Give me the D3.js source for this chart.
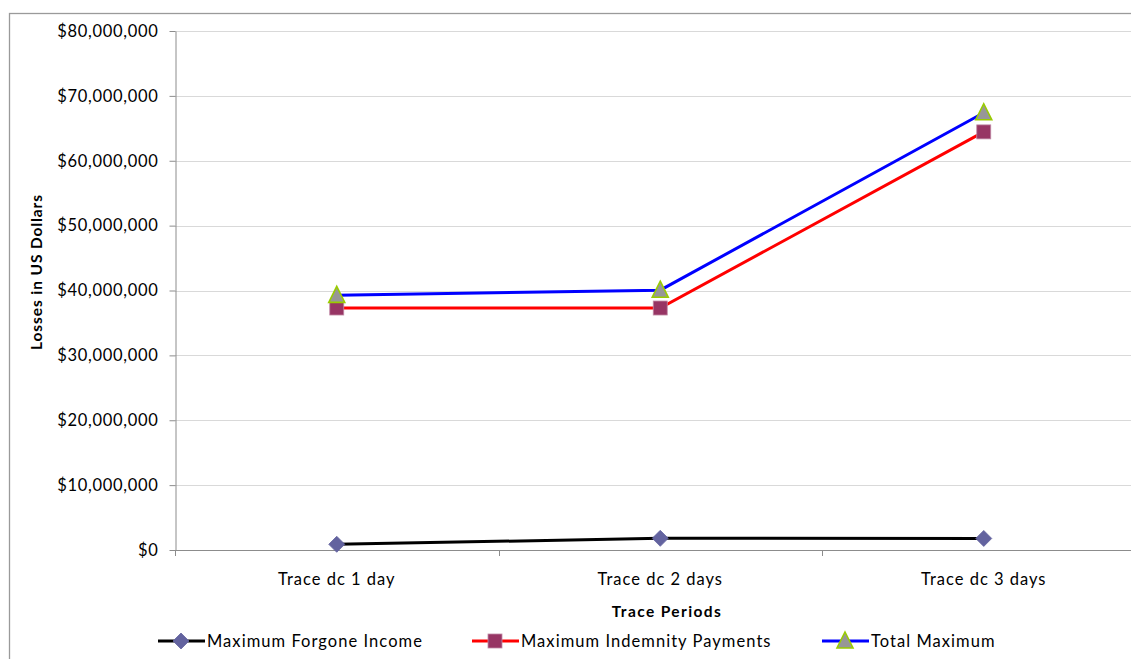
<!DOCTYPE html>
<html>
<head>
<meta charset="utf-8">
<script src="https://cdn.jsdelivr.net/npm/d3@7"></script>
<style>
  html, body { margin: 0; padding: 0; background: #fff; }
  svg { display: block; }
  text { font-family: Lato, "Open Sans", "Liberation Sans", sans-serif; fill: #000; }
</style>
</head>
<body>
<svg id="chart" width="1131" height="659"></svg>
<script>
// Trace periods on the category axis
const categories = ["Trace dc 1 day", "Trace dc 2 days", "Trace dc 3 days"];

// Losses in US dollars for each period
const forgoneIncome = [880000, 1800000, 1780000];
const indemnityPayments = [37300000, 37300000, 64450000];
const totalMaximum = [39250000, 40050000, 67400000];

const yTicks = [0, 10000000, 20000000, 30000000, 40000000, 50000000, 60000000, 70000000, 80000000];

const seriesNames = ["Maximum Forgone Income", "Maximum Indemnity Payments", "Total Maximum"];

const series = [
  { name: seriesNames[0], values: forgoneIncome, line: "#000000", marker: "diamond", fill: "#63639f", stroke: "#63639f" },
  { name: seriesNames[1], values: indemnityPayments, line: "#ff0000", marker: "square", fill: "#973564", stroke: "#c08aa5" },
  { name: seriesNames[2], values: totalMaximum, line: "#0000ff", marker: "triangle", fill: "#979797", stroke: "#99cc00" }
];

const svg = d3.select("#chart");

// Outer chart frame
svg.append("rect")
  .attr("x", 9.5).attr("y", 13.5)
  .attr("width", 1140).attr("height", 660)
  .attr("fill", "none").attr("stroke", "#9a9a9a").attr("stroke-width", 1.3);

const plot = { left: 175, top: 31, bottom: 550, bandW: 323.5 };

const x = d3.scaleBand()
  .domain(categories)
  .range([plot.left, plot.left + plot.bandW * categories.length])
  .paddingInner(0).paddingOuter(0);

const y = d3.scaleLinear()
  .domain([0, 80000000])
  .range([plot.bottom, plot.top]);

const fmt = v => "$" + d3.format(",")(v);

// Horizontal gridlines
svg.append("g")
  .selectAll("line")
  .data(yTicks.filter(v => v > 0))
  .join("line")
  .attr("x1", plot.left).attr("x2", 1131)
  .attr("y1", d => Math.round(y(d)) + 0.5).attr("y2", d => Math.round(y(d)) + 0.5)
  .attr("stroke", "#d9d9d9").attr("stroke-width", 1);

// Y axis
const yAxis = svg.append("g")
  .attr("transform", `translate(${plot.left + 0.5},0)`)
  .call(d3.axisLeft(y).tickValues(yTicks).tickFormat(fmt).tickSize(6).tickSizeOuter(0));
yAxis.select(".domain").attr("stroke", "#8c8c8c");
yAxis.selectAll(".tick line").attr("stroke", "#8c8c8c");
yAxis.selectAll(".tick text")
  .attr("x", -17)
  .style("font-size", "16.5px")
  .style("letter-spacing", "0.7px")
  .style("font-family", "Lato, 'Open Sans', sans-serif");

// X axis with ticks at the category boundaries
const boundaries = d3.range(categories.length + 1).map(i => plot.left + i * x.bandwidth());
const xAxisG = svg.append("g");
xAxisG.append("line")
  .attr("x1", plot.left).attr("x2", 1131)
  .attr("y1", plot.bottom + 0.5).attr("y2", plot.bottom + 0.5)
  .attr("stroke", "#8c8c8c");
xAxisG.selectAll("line.tk")
  .data(boundaries)
  .join("line")
  .attr("class", "tk")
  .attr("x1", d => Math.round(d) + 0.5).attr("x2", d => Math.round(d) + 0.5)
  .attr("y1", plot.bottom).attr("y2", plot.bottom + 6)
  .attr("stroke", "#8c8c8c");
xAxisG.selectAll("text")
  .data(categories)
  .join("text")
  .attr("x", d => x(d) + x.bandwidth() / 2)
  .attr("y", 585)
  .attr("text-anchor", "middle")
  .style("font-size", "16.5px")
  .style("letter-spacing", "1px")
  .text(d => d);

// Axis titles
svg.append("text")
  .attr("x", 667).attr("y", 617)
  .attr("text-anchor", "middle")
  .style("font-size", "15.5px").style("font-weight", "bold")
  .style("letter-spacing", "1.4px")
  .text("Trace Periods");

svg.append("text")
  .attr("transform", "translate(42,272) rotate(-90)")
  .attr("text-anchor", "middle")
  .style("font-size", "15.5px").style("font-weight", "bold")
  .style("letter-spacing", "0.9px")
  .text("Losses in US Dollars");

// Marker shapes
function drawMarker(g, type, cx, cy, fill, stroke) {
  if (type === "diamond") {
    g.append("path")
      .attr("d", `M${cx},${cy - 8}L${cx + 8},${cy}L${cx},${cy + 8}L${cx - 8},${cy}Z`)
      .attr("fill", fill).attr("stroke", stroke).attr("stroke-width", 0.8);
  } else if (type === "square") {
    g.append("rect")
      .attr("x", cx - 7).attr("y", cy - 7).attr("width", 14).attr("height", 14)
      .attr("fill", fill).attr("stroke", stroke).attr("stroke-width", 0.8);
  } else {
    g.append("path")
      .attr("d", `M${cx},${cy - 9}L${cx + 8},${cy + 7}L${cx - 8},${cy + 7}Z`)
      .attr("fill", fill).attr("stroke", stroke).attr("stroke-width", 1.6)
      .attr("stroke-linejoin", "miter");
  }
}

const line = d3.line()
  .x((d, i) => x(categories[i]) + x.bandwidth() / 2)
  .y(d => y(d));

series.forEach(s => {
  const g = svg.append("g");
  g.append("path")
    .attr("d", line(s.values))
    .attr("fill", "none")
    .attr("stroke", s.line)
    .attr("stroke-width", 3);
  s.values.forEach((v, i) => {
    drawMarker(g, s.marker, x(categories[i]) + x.bandwidth() / 2, y(v), s.fill, s.stroke);
  });
});

// Legend
const legendX = [158, 472, 822];
const legendY = 641;
series.forEach((s, i) => {
  const g = svg.append("g");
  const x0 = legendX[i];
  g.append("line")
    .attr("x1", x0).attr("x2", x0 + 47)
    .attr("y1", legendY).attr("y2", legendY)
    .attr("stroke", s.line).attr("stroke-width", 3);
  drawMarker(g, s.marker, x0 + 23, legendY, s.fill, s.stroke);
  g.append("text")
    .attr("x", x0 + 49).attr("y", legendY + 5.5)
    .style("font-size", "16.5px")
    .style("letter-spacing", "1.05px")
    .text(s.name);
});
</script>
</body>
</html>
